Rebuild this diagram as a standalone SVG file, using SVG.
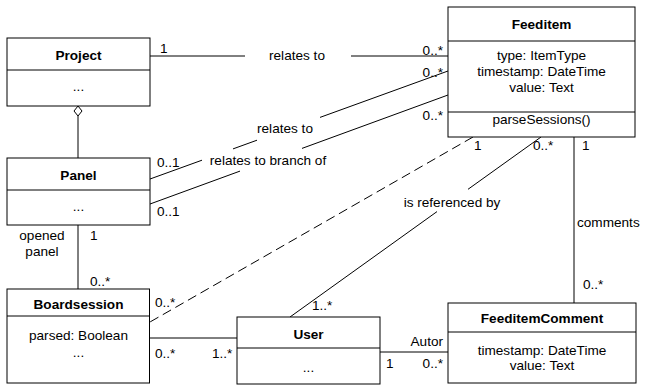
<svg xmlns="http://www.w3.org/2000/svg" width="645" height="388" viewBox="0 0 645 388">
<style>
.box{fill:#fff;stroke:#000;stroke-width:1}
.ln{fill:none;stroke:#000;stroke-width:1}
.dash{fill:none;stroke:#000;stroke-width:1;stroke-dasharray:9.5 5}
text{font-family:"Liberation Sans",Arial,sans-serif;font-size:13.6px;fill:#000}
.t{font-weight:bold;text-anchor:middle}
.c{text-anchor:middle}
.e{text-anchor:end}
</style>
<rect width="645" height="388" fill="#fff"/>
<g id="connectors">
<line class="ln" x1="150" y1="56" x2="245" y2="56"/>
<line class="ln" x1="351" y1="56" x2="448" y2="56"/>
<line class="ln" x1="150" y1="179" x2="202" y2="160.2"/>
<line class="ln" x1="233" y1="148.9" x2="257" y2="140.2"/>
<line class="ln" x1="320" y1="117.4" x2="448" y2="71"/>
<line class="ln" x1="150" y1="204" x2="240" y2="171.1"/>
<line class="ln" x1="302" y1="148.4" x2="448" y2="95"/>
<line class="dash" x1="473" y1="137" x2="150" y2="322"/>
<line class="ln" x1="541" y1="137" x2="468" y2="189.3"/>
<line class="ln" x1="437" y1="211.6" x2="290" y2="317"/>
<line class="ln" x1="574" y1="137" x2="574" y2="303"/>
<path class="ln" d="M78 106 L82 111 L78 116 L74 111 Z"/>
<line class="ln" x1="78" y1="116" x2="78" y2="158"/>
<line class="ln" x1="78" y1="225" x2="78" y2="289"/>
<line class="ln" x1="147" y1="338" x2="237" y2="338"/>
<line class="ln" x1="380" y1="352" x2="448" y2="352"/>
<text x="160" y="53">1</text>
<text class="c" x="297" y="60">relates to</text>
<text class="e" x="443" y="55">0..*</text>
<text class="e" x="443" y="77">0..*</text>
<text class="c" x="285" y="133">relates to</text>
<text x="157" y="167">0..1</text>
<text class="c" x="268" y="165">relates to branch of</text>
<text class="e" x="443" y="120">0..*</text>
<text x="157" y="216">0..1</text>
<text x="474" y="150">1</text>
<text x="533" y="150">0..*</text>
<text x="582" y="150">1</text>
<text class="c" x="452" y="207">is referenced by</text>
<text x="577" y="227">comments</text>
<text x="583" y="289">0..*</text>
<text class="c" x="42" y="240">opened</text>
<text class="c" x="42" y="256">panel</text>
<text x="90" y="240">1</text>
<text x="90" y="286">0..*</text>
<text x="155" y="307">0..*</text>
<text x="312" y="310">1..*</text>
<text x="155" y="358">0..*</text>
<text x="212" y="358">1..*</text>
<text class="e" x="443" y="346">Autor</text>
<text x="386" y="368">1</text>
<text class="e" x="443" y="368">0..*</text>
</g>
<g id="Project">
<rect class="box" x="7" y="38" width="143" height="68"/>
<line class="ln" x1="7" y1="70" x2="150" y2="70"/>
<text class="t" x="78.5" y="60">Project</text>
<text class="c" x="78.5" y="91">...</text>
</g>
<g id="Panel">
<rect class="box" x="7" y="158" width="143" height="67"/>
<line class="ln" x1="7" y1="190" x2="150" y2="190"/>
<text class="t" x="78.5" y="180">Panel</text>
<text class="c" x="78.5" y="211">...</text>
</g>
<g id="Feeditem">
<rect class="box" x="448" y="7" width="187" height="130"/>
<line class="ln" x1="448" y1="41" x2="635" y2="41"/>
<line class="ln" x1="448" y1="112" x2="635" y2="112"/>
<text class="t" x="541.5" y="29">Feeditem</text>
<text class="c" x="541.5" y="60">type: ItemType</text>
<text class="c" x="541.5" y="76">timestamp: DateTime</text>
<text class="c" x="541.5" y="92">value: Text</text>
<text class="c" x="541.5" y="124">parseSessions()</text>
</g>
<g id="Boardsession">
<rect class="box" x="7" y="289" width="142.5" height="94"/>
<line class="ln" x1="7" y1="316" x2="149.5" y2="316"/>
<text class="t" x="78.5" y="309">Boardsession</text>
<text class="c" x="78.5" y="340">parsed: Boolean</text>
<text class="c" x="78.5" y="357">...</text>
</g>
<g id="User">
<rect class="box" x="237" y="317" width="143" height="67"/>
<line class="ln" x1="237" y1="348" x2="380" y2="348"/>
<text class="t" x="308.5" y="339">User</text>
<text class="c" x="308.5" y="372">...</text>
</g>
<g id="FeeditemComment">
<rect class="box" x="448" y="303" width="188" height="80"/>
<line class="ln" x1="448" y1="332" x2="636" y2="332"/>
<text class="t" x="542" y="323">FeeditemComment</text>
<text class="c" x="542" y="355">timestamp: DateTime</text>
<text class="c" x="542" y="370">value: Text</text>
</g>
</svg>
